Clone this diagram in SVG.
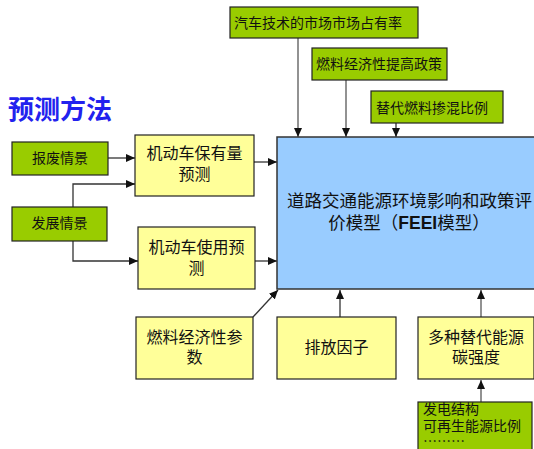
<svg xmlns="http://www.w3.org/2000/svg" width="534" height="449" viewBox="0 0 534 449">
<style>
.g{fill:#99CC00;stroke:#222;stroke-width:1.2}
.y{fill:#FFFF99;stroke:#222;stroke-width:1.2}
.b{fill:#99CCFF;stroke:#333;stroke-width:1.5}
text{font-family:"Noto Sans CJK SC","Liberation Sans",sans-serif;fill:#111}
.s14{font-size:14px}
.s16{font-size:16px}
.m{text-anchor:middle}
.c{fill:none;stroke:#333;stroke-width:1.3;marker-end:url(#ah)}
.cg{fill:none;stroke:#777;stroke-width:1.6;marker-end:url(#ah)}
</style>
<defs>
<marker id="ah" markerUnits="userSpaceOnUse" markerWidth="10" markerHeight="8" refX="9" refY="4" orient="auto">
<path d="M0,0 L9,4 L0,8 Z" fill="#111"/>
</marker>
</defs>
<text x="8" y="119" style="font-size:26px;font-weight:bold;fill:#2222EE">预测方法</text>

<g id="connectors">
<path class="cg" d="M298,38 V137"/>
<path class="cg" d="M346,80 V137"/>
<path class="c" d="M396,123 V137"/>
<path class="c" d="M108,158 H135"/>
<path class="c" d="M73,207 V184 H135"/>
<path class="c" d="M73,241 V261 H138"/>
<path class="c" d="M254,162 H277"/>
<path class="c" d="M255,261 H277"/>
<path class="c" d="M253,317 L278,290"/>
<path class="c" d="M340,317 V290"/>
<path class="cg" d="M481,317 V290"/>
<path class="cg" d="M481,402 V380"/>
</g>

<g id="n_market"><rect class="g" x="230" y="7" width="188" height="31"/><text class="s14" x="234" y="28">汽车技术的市场市场占有率</text></g>
<g id="n_policy"><rect class="g" x="312" y="48" width="135" height="32"/><text class="s14" x="316" y="69">燃料经济性提高政策</text></g>
<g id="n_blend"><rect class="g" x="371" y="91" width="132" height="32"/><text class="s14" x="376" y="113">替代燃料掺混比例</text></g>

<g id="n_scrap"><rect class="g" x="12" y="142" width="96" height="33"/><text class="s14 m" x="60" y="163">报废情景</text></g>
<g id="n_dev"><rect class="g" x="12" y="207" width="95" height="34"/><text class="s14 m" x="59.5" y="228">发展情景</text></g>

<g id="n_stock"><rect class="y" x="135" y="135" width="119" height="61"/><text class="s16 m" x="194.5" y="159">机动车保有量</text><text class="s16 m" x="194.5" y="180">预测</text></g>
<g id="n_use"><rect class="y" x="138" y="227" width="117" height="62"/><text class="s16 m" x="196.5" y="253">机动车使用预</text><text class="s16 m" x="196.5" y="274">测</text></g>

<g id="n_model"><rect class="b" x="277" y="137" width="270" height="152"/><text x="287" y="207" style="font-size:17.5px">道路交通能源环境影响和政策评</text><text x="409" y="229" class="m" style="font-size:17.5px">价模型（<tspan style="font-family:'Liberation Sans',sans-serif;font-weight:bold">FEEI</tspan>模型）</text></g>

<g id="n_fuel"><rect class="y" x="136" y="317" width="117" height="62"/><text class="s16 m" x="194.5" y="343">燃料经济性参</text><text class="s16 m" x="194.5" y="363">数</text></g>
<g id="n_emis"><rect class="y" x="277" y="317" width="119" height="62"/><text class="s16 m" x="336.5" y="353">排放因子</text></g>
<g id="n_carbon"><rect class="y" x="418" y="317" width="116" height="62"/><text class="s16 m" x="476" y="343">多种替代能源</text><text class="s16 m" x="476" y="363">碳强度</text></g>

<g id="n_power"><rect class="g" x="418" y="402" width="114" height="60"/><text class="s14" x="423" y="414">发电结构</text><text class="s14" x="423" y="431">可再生能源比例</text><text class="s14" x="423" y="446">………</text></g>
</svg>
